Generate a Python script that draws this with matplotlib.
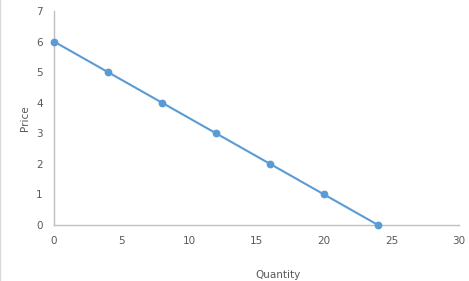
import matplotlib
matplotlib.use("Agg")
import matplotlib.pyplot as plt
from matplotlib.lines import Line2D

# demand schedule
quantity = [0, 4, 8, 12, 16, 20, 24]
price = [6, 5, 4, 3, 2, 1, 0]

x_ticks = [0, 5, 10, 15, 20, 25, 30]
y_ticks = [0, 1, 2, 3, 4, 5, 6, 7]

blue = '#5B9BD5'
axis_grey = '#BFBFBF'
text_grey = '#595959'

fig = plt.figure(figsize=(4.69, 2.81), dpi=100)
ax = fig.add_axes([0.1151, 0.1993, 0.8636, 0.7616])

ax.plot(quantity, price, color=blue, linewidth=1.5, marker='o',
        markersize=4.6, clip_on=False, zorder=3)

ax.set_xlim(0, 30)
ax.set_ylim(0, 7)
ax.set_xticks(x_ticks)
ax.set_yticks(y_ticks)

for side in ['top', 'right']:
    ax.spines[side].set_visible(False)
for side in ['left', 'bottom']:
    ax.spines[side].set_color(axis_grey)
    ax.spines[side].set_linewidth(1.0)

ax.tick_params(axis='x', length=0, labelsize=7.5, colors=text_grey, pad=8)
ax.tick_params(axis='y', length=0, labelsize=7.5, colors=text_grey, pad=8)

fig.text(278 / 469, 1 - 275 / 281, 'Quantity', ha='center', va='center',
         fontsize=7.5, color=text_grey)
fig.text(25 / 469, 1 - 118 / 281, 'Price', ha='center', va='center',
         fontsize=7.5, color=text_grey, rotation=90)

# chart area border on the left edge
fig.add_artist(Line2D([0.001, 0.001], [0, 1], color='#D9D9D9', linewidth=1.0))

fig.savefig('out.png', dpi=100)
